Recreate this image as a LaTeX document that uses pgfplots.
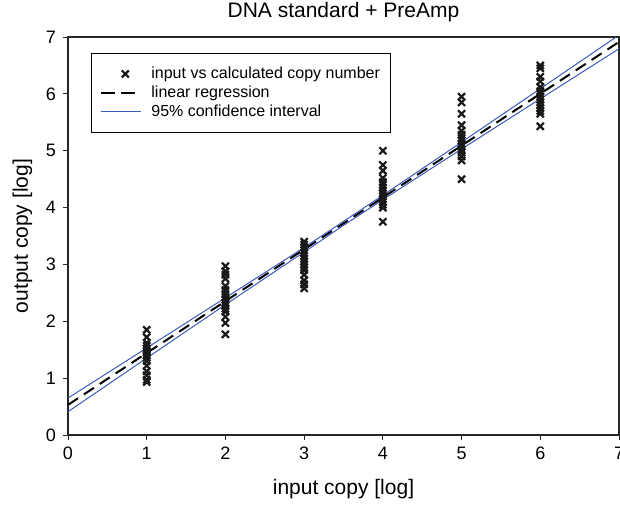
\documentclass[border=0pt]{standalone}
\usepackage{pgfplots}
\pgfplotsset{compat=1.18}
\usepackage{fontspec}
\setmainfont{Liberation Sans}
\definecolor{ciblue}{RGB}{60,90,185}
\pgfplotsset{
  lineleg/.style={legend image code/.code={\draw[##1] (0pt,0pt) -- (20pt,0pt);}},
  dashleg/.style={legend image code/.code={\draw[##1, dash pattern=on 7pt off 3pt] (0pt,0pt) -- (20pt,0pt);}},
  markleg/.style={legend image code/.code={\path (0pt,0pt) (20pt,0pt); \draw[##1] plot coordinates {(12pt,0pt)};}},
}

\begin{document}
\begin{tikzpicture}
\begin{axis}[
  scale only axis, width=275.5pt, height=199pt,
  xmin=0, xmax=7, ymin=0, ymax=7,
  xtick={0,...,7}, ytick={0,...,7},
  tick align=outside, xtick pos=bottom, ytick pos=left,
  major tick length=2.5pt,
  tick style={black!85, line width=0.5pt},
  tick label style={font=\fontsize{9}{10}\selectfont},
  /pgf/number format/assume math mode=true,
  xlabel={input copy [log]}, ylabel={output copy [log]},
  label style={font=\fontsize{10.5}{12}\selectfont},
  xlabel style={yshift=-3pt},
  title={DNA standard + PreAmp},
  title style={font=\fontsize{10.5}{12}\selectfont, yshift=-1.8pt},
  axis line style={black!85, line width=0.6pt},
  legend style={at={(axis description cs:0.0412,0.96)}, anchor=north west,
    draw=black, line width=0.5pt, font=\fontsize{8}{9.5}\selectfont,
    inner xsep=4.5pt, inner ysep=5.5pt, row sep=0pt,
    nodes={inner sep=1pt, text height=6pt, text depth=1.5pt},
    /tikz/every odd column/.append style={column sep=3.5pt}},
  legend cell align=left,
]
% measured copy numbers, six dilution steps
\addplot[only marks, mark=x, mark size=2.5pt, line width=1.1pt, black!90, markleg]
  coordinates {
  (1,1.85) (1,1.72) (1,1.62) (1,1.57) (1,1.52) (1,1.48) (1,1.44) (1,1.40)
  (1,1.36) (1,1.30) (1,1.22) (1,1.12) (1,1.05) (1,0.97) (1,0.93)
  (2,2.97) (2,2.88) (2,2.82) (2,2.75) (2,2.62) (2,2.55) (2,2.48) (2,2.42)
  (2,2.38) (2,2.33) (2,2.28) (2,2.22) (2,2.17) (2,2.08) (2,1.97) (2,1.77)
  (3,3.40) (3,3.35) (3,3.30) (3,3.25) (3,3.20) (3,3.15) (3,3.10) (3,3.05)
  (3,3.00) (3,2.95) (3,2.90) (3,2.82) (3,2.72) (3,2.65) (3,2.58)
  (4,5.00) (4,4.75) (4,4.65) (4,4.52) (4,4.45) (4,4.40) (4,4.35) (4,4.30)
  (4,4.25) (4,4.20) (4,4.15) (4,4.10) (4,4.05) (4,4.00) (4,3.75)
  (5,5.95) (5,5.85) (5,5.65) (5,5.45) (5,5.35) (5,5.28) (5,5.22) (5,5.18)
  (5,5.12) (5,5.08) (5,5.02) (5,4.97) (5,4.90) (5,4.83) (5,4.50)
  (6,6.50) (6,6.45) (6,6.30) (6,6.22) (6,6.12) (6,6.05) (6,6.00) (6,5.95)
  (6,5.90) (6,5.85) (6,5.80) (6,5.75) (6,5.70) (6,5.65) (6,5.43)};
\addlegendentry{input vs calculated copy number}
\addplot[black, line width=1pt, dash pattern=on 6pt off 3.5pt, dashleg]
  coordinates {(0,0.53) (7,6.914)};
\addlegendentry{linear regression}
\addplot[ciblue, line width=0.5pt, lineleg]
  coordinates {(0,0.650) (1,1.531) (2,2.414) (3,3.297) (3.5,3.757)
    (4,4.217) (5,5.151) (6,6.091) (7,7.034)};
\addlegendentry{95\% confidence interval}
\addplot[ciblue, line width=0.5pt, forget plot]
  coordinates {(0,0.410) (1,1.353) (2,2.293) (3,3.219) (3.5,3.687)
    (4,4.139) (5,5.030) (6,5.913) (7,6.794)};
\end{axis}
\pgfresetboundingbox
\path ([shift={(-34pt,-35pt)}]current axis.south west) rectangle ([shift={(276pt,217.5pt)}]current axis.south west);
\end{tikzpicture}
\end{document}
